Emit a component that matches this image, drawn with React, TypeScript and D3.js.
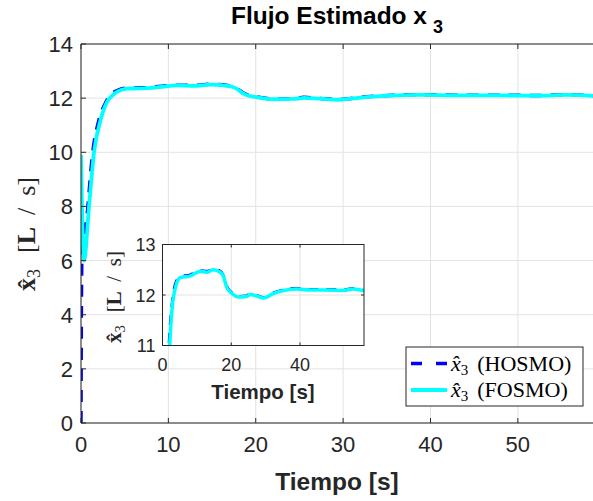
import React from 'react'
import * as d3 from 'd3'

// HOSMO estimate (blue dashed)
const hosmoT = [0, 0.03, 0.1, 0.72, 1.29, 2.06, 2.7, 3.4, 4.2, 5.3, 6.5, 8.1, 9.5, 11, 12.9, 14.8, 16.8, 17.7, 18.7, 20.2, 22.1, 24.5, 25.5, 27.4, 29.4, 32.3, 35.2, 39, 42.9, 47.7, 52.5, 55.5, 58.6]
const hosmoV = [0, 3.0, 6.0, 7.75, 9.85, 11.2, 11.75, 12.12, 12.29, 12.37, 12.38, 12.4, 12.45, 12.48, 12.47, 12.51, 12.47, 12.38, 12.17, 12.04, 11.97, 11.98, 12.03, 11.99, 11.95, 12.04, 12.1, 12.13, 12.11, 12.11, 12.1, 12.13, 12.09]

// FOSMO estimate (cyan)
const fosmoT = [0, 0.34, 0.92, 1.49, 2.25, 3.0, 3.6, 4.15, 5.3, 6.5, 8.1, 9.5, 11, 12.9, 14.8, 16.8, 17.7, 18.7, 20.2, 22.1, 24.5, 25.5, 27.4, 29.4, 32.3, 35.2, 39, 42.9, 47.7, 52.5, 55.5, 58.6]
const fosmoV = [9.91, 6.0, 8.0, 10.0, 11.2, 11.87, 12.1, 12.24, 12.35, 12.36, 12.38, 12.43, 12.47, 12.45, 12.5, 12.45, 12.37, 12.15, 12.03, 11.96, 11.97, 12.01, 11.98, 11.94, 12.03, 12.09, 12.12, 12.1, 12.1, 12.09, 12.12, 12.08]

const xTicks = [0, 10, 20, 30, 40, 50]
const yTicks = [0, 2, 4, 6, 8, 10, 12, 14]
const xTicksInset = [0, 20, 40]
const yTicksInset = [11, 12, 13]
const legendLabels = ['HOSMO', 'FOSMO']

const sans = 'Liberation Sans, Arial, Helvetica, sans-serif'
const serif = 'Liberation Serif, DejaVu Serif, serif'
const axisColor = '#262626'
const gridColor = '#e3e3e3'
const blue = '#0000ff'
const cyan = '#00ffff'

type Pt = { t: number; v: number }
const zip = (t: number[], v: number[]): Pt[] => t.map((tt, i) => ({ t: tt, v: v[i] }))

const hosmo = zip(hosmoT, hosmoV)
const fosmo = zip(fosmoT, fosmoV)

// rotated "x̂3  [L / s]" label
const YLabel = ({ cx, cy, size }: { cx: number; cy: number; size: number }) => {
  const k = size / 26
  return (
    <text
      transform={`translate(${cx},${cy}) rotate(-90)`}
      textAnchor='middle'
      fontFamily={serif}
      fontSize={size}
      fill={axisColor}
    >
      <tspan fontWeight='bold'>{'x\u0302'}</tspan>
      <tspan dy={5 * k} fontSize={18 * k}>3</tspan>
      <tspan dy={-5 * k} dx={16 * k}>[</tspan>
      <tspan fontWeight='bold'>L</tspan>
      <tspan dx={12 * k}>/</tspan>
      <tspan dx={12 * k}>s]</tspan>
    </text>
  )
}

const App = (): JSX.Element => {
  const W = 593
  const H = 501
  const main = { left: 81, right: 593, top: 44, bottom: 423 }
  const ins = { left: 162.5, right: 364, top: 244.5, bottom: 345.5 }

  const x = d3.scaleLinear().domain([0, 58.6]).range([main.left, main.right])
  const y = d3.scaleLinear().domain([0, 14]).range([main.bottom, main.top])
  const xi = d3.scaleLinear().domain([0, 58.6]).range([ins.left, ins.right])
  const yi = d3.scaleLinear().domain([11, 13]).range([ins.bottom, ins.top])

  const line = d3
    .line<Pt>()
    .x(d => x(d.t))
    .y(d => y(d.v))
    .curve(d3.curveMonotoneX)
  const lineI = d3
    .line<Pt>()
    .x(d => xi(d.t))
    .y(d => yi(d.v))
    .curve(d3.curveMonotoneX)

  const legX = 406
  const legY = 347
  const legW = 177
  const legH = 59

  return (
    <svg
      width={W}
      height={H}
      style={{ position: 'absolute', left: 0, top: 0, background: '#fff' }}
    >
      <defs>
        <clipPath id='clipMain'>
          <rect x={main.left} y={main.top} width={main.right - main.left} height={main.bottom - main.top} />
        </clipPath>
        <clipPath id='clipInset'>
          <rect x={ins.left} y={ins.top} width={ins.right - ins.left} height={ins.bottom - ins.top} />
        </clipPath>
      </defs>
      <rect x={0} y={0} width={W} height={H} fill='#fff' />

      {/* main grid */}
      {xTicks.map(t => (
        <line key={'gx' + t} x1={x(t)} x2={x(t)} y1={main.top} y2={main.bottom} stroke={gridColor} />
      ))}
      {yTicks.map(t => (
        <line key={'gy' + t} x1={main.left} x2={main.right} y1={y(t)} y2={y(t)} stroke={gridColor} />
      ))}

      {/* main lines */}
      <g clipPath='url(#clipMain)'>
        <path d={line(hosmo) || ''} fill='none' stroke={blue} strokeWidth={3.5} strokeDasharray='12,9' />
        <path d={line(fosmo) || ''} fill='none' stroke={cyan} strokeWidth={3.8} />
      </g>

      {/* main axes */}
      <line x1={main.left} x2={main.left} y1={main.top} y2={main.bottom} stroke={axisColor} strokeWidth={1} />
      <line x1={main.left} x2={main.right} y1={main.bottom} y2={main.bottom} stroke={axisColor} strokeWidth={1} />
      <line x1={main.left} x2={main.right} y1={main.top} y2={main.top} stroke={axisColor} strokeWidth={1} />
      {xTicks.map(t => (
        <g key={'tx' + t}>
          <line x1={x(t)} x2={x(t)} y1={main.bottom} y2={main.bottom - 5} stroke={axisColor} />
          <line x1={x(t)} x2={x(t)} y1={main.top} y2={main.top + 5} stroke={axisColor} />
          <text x={x(t)} y={main.bottom + 29} textAnchor='middle' fontFamily={sans} fontSize={22} fill={axisColor}>
            {t}
          </text>
        </g>
      ))}
      {yTicks.map(t => (
        <g key={'ty' + t}>
          <line x1={main.left} x2={main.left + 5} y1={y(t)} y2={y(t)} stroke={axisColor} />
          <text x={main.left - 8} y={y(t) + 8} textAnchor='end' fontFamily={sans} fontSize={22} fill={axisColor}>
            {t}
          </text>
        </g>
      ))}

      {/* title */}
      <text x={337} y={24} textAnchor='middle' fontFamily={sans} fontSize={24.5} fontWeight='bold' fill='#000'>
        Flujo Estimado x
        <tspan dx={6} dy={9} fontSize={18}>3</tspan>
      </text>

      {/* x label */}
      <text x={337} y={490} textAnchor='middle' fontFamily={sans} fontSize={24.5} fontWeight='bold' fill={axisColor}>
        Tiempo [s]
      </text>

      {/* y label */}
      <YLabel cx={35} cy={234} size={26} />

      {/* inset */}
      <rect x={ins.left} y={ins.top} width={ins.right - ins.left} height={ins.bottom - ins.top} fill='#fff' />
      {xTicksInset.map(t => (
        <line key={'igx' + t} x1={xi(t)} x2={xi(t)} y1={ins.top} y2={ins.bottom} stroke={gridColor} />
      ))}
      {yTicksInset.map(t => (
        <line key={'igy' + t} x1={ins.left} x2={ins.right} y1={yi(t)} y2={yi(t)} stroke={gridColor} />
      ))}
      <g clipPath='url(#clipInset)'>
        <path d={lineI(hosmo) || ''} fill='none' stroke={blue} strokeWidth={3} strokeDasharray='10,8' />
        <path d={lineI(fosmo) || ''} fill='none' stroke={cyan} strokeWidth={3.5} />
      </g>
      <rect x={ins.left} y={ins.top} width={ins.right - ins.left} height={ins.bottom - ins.top} fill='none' stroke={axisColor} strokeWidth={1} />
      {xTicksInset.map(t => (
        <g key={'itx' + t}>
          <line x1={xi(t)} x2={xi(t)} y1={ins.bottom} y2={ins.bottom - 3} stroke={axisColor} />
          <line x1={xi(t)} x2={xi(t)} y1={ins.top} y2={ins.top + 3} stroke={axisColor} />
          <text x={xi(t)} y={ins.bottom + 25} textAnchor='middle' fontFamily={sans} fontSize={18} fill={axisColor}>
            {t}
          </text>
        </g>
      ))}
      {yTicksInset.map(t => (
        <g key={'ity' + t}>
          <line x1={ins.left} x2={ins.left + 3} y1={yi(t)} y2={yi(t)} stroke={axisColor} />
          <line x1={ins.right} x2={ins.right - 3} y1={yi(t)} y2={yi(t)} stroke={axisColor} />
          <text x={ins.left - 7} y={yi(t) + 6.5} textAnchor='end' fontFamily={sans} fontSize={18} fill={axisColor}>
            {t}
          </text>
        </g>
      ))}
      <text x={263} y={399} textAnchor='middle' fontFamily={sans} fontSize={20.5} fontWeight='bold' fill={axisColor}>
        Tiempo [s]
      </text>
      <YLabel cx={121} cy={297} size={21} />

      {/* legend */}
      <rect x={legX} y={legY} width={legW} height={legH} fill='#fff' stroke={axisColor} strokeWidth={1} />
      {legendLabels.map((lab, i) => {
        const ly = legY + 16.5 + i * 26.5
        return (
          <g key={lab}>
            <line
              x1={legX + 5}
              x2={legX + 41}
              y1={ly}
              y2={ly}
              stroke={i === 0 ? blue : cyan}
              strokeWidth={i === 0 ? 3.5 : 3.8}
              strokeDasharray={i === 0 ? '11,14' : undefined}
            />
            <text x={legX + 45} y={ly + 7} fontFamily={serif} fontSize={22} fill='#000'>
              <tspan fontStyle='italic'>{'x\u0302'}</tspan>
              <tspan dy={4} fontSize={15}>3</tspan>
              <tspan dy={-4} dx={9}>({lab})</tspan>
            </text>
          </g>
        )
      })}
    </svg>
  )
}

export default App
